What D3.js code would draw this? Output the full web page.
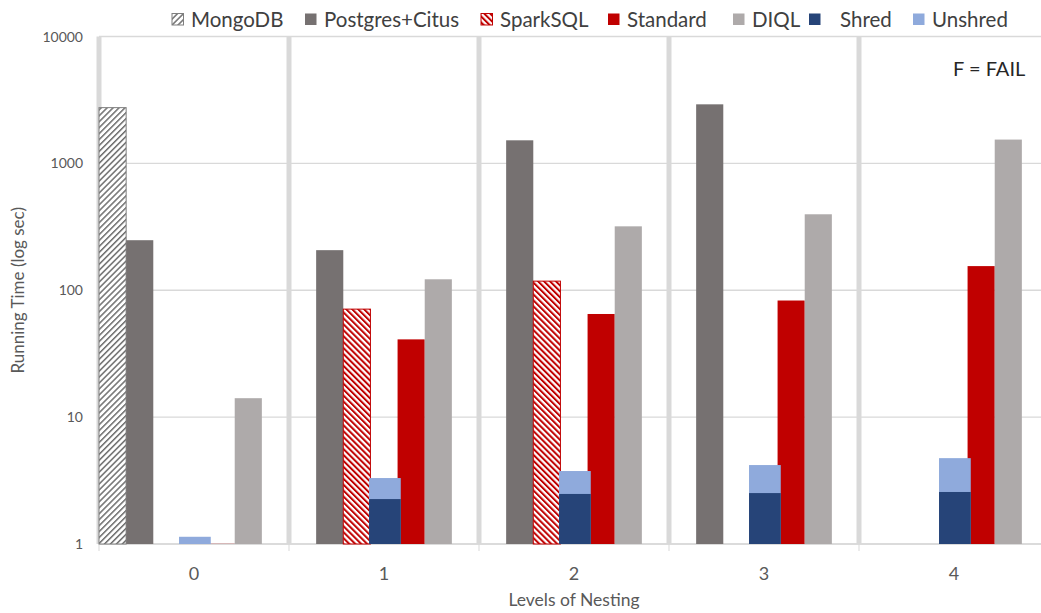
<!DOCTYPE html>
<html><head><meta charset="utf-8">
<script src="https://cdn.jsdelivr.net/npm/d3@7"></script>
<style>
  body { margin: 0; background: #fff; }
  svg { display: block; font-family: Lato, "Open Sans", sans-serif; }
</style>
</head><body>
<svg id="chart" width="1041" height="613"></svg>
<script>
// Running time (seconds) per level of nesting; null = no bar (failed run)
const levels        = ["0", "1", "2", "3", "4"];
const mongodb       = [2750, null, null, null, null];
const postgresCitus = [248, 207, 1520, 2920, null];
const sparkSQL      = [null, 71, 118, null, null];
const standard      = [1.003, 41, 65, 83, 155];
const diql          = [14.1, 122, 319, 397, 1540];
const shred         = [null, 2.26, 2.48, 2.52, 2.57];
const unshred       = [1.14, 3.31, 3.76, 4.19, 4.75];
const yTicks        = [1, 10, 100, 1000, 10000];
const legendNames   = ["MongoDB", "Postgres+Citus", "SparkSQL", "Standard", "DIQL", "Shred", "Unshred"];

const svg = d3.select("#chart");
const plot = { left: 99, right: 1049, top: 36.5, bottom: 544 };

const x = d3.scaleBand().domain(levels).range([plot.left, plot.right]).padding(0);
// seven slots per group: six series positions plus an empty trailing slot
const slot = d3.scaleBand().domain(d3.range(7)).range([0, x.bandwidth()]).padding(0);
const y = d3.scaleLog().domain([1, 10000]).range([plot.bottom, plot.top]);

const gridColor = "#d9d9d9";
const colors = {
  postgres: "#767171",
  standard: "#c00000",
  diql: "#aeaaaa",
  shred: "#264478",
  unshred: "#8faadc"
};

// hatch patterns
const defs = svg.append("defs");
function hatch(id, angle, color, bg, size, lineW) {
  const p = defs.append("pattern")
    .attr("id", id)
    .attr("patternUnits", "userSpaceOnUse")
    .attr("width", size).attr("height", size)
    .attr("patternTransform", `rotate(${angle})`);
  p.append("rect").attr("width", size).attr("height", size).attr("fill", bg);
  p.append("rect").attr("x", 0).attr("y", 0).attr("width", lineW).attr("height", size).attr("fill", color);
}
hatch("hatchMongo", 45, "#6f6f6f", "#ffffff", 4.2, 1.5);
hatch("hatchSpark", -45, "#c00000", "#ffffff", 4.2, 2.0);

// horizontal gridlines
svg.append("g").selectAll("line").data(yTicks).join("line")
  .attr("x1", plot.left).attr("x2", plot.right)
  .attr("y1", d => y(d)).attr("y2", d => y(d))
  .attr("stroke", gridColor).attr("stroke-width", 1.3);

// thick group separators
const bounds = levels.map(l => x(l)).concat([plot.right]);
svg.append("g").selectAll("rect").data(bounds).join("rect")
  .attr("x", d => d - 2.5).attr("width", 5)
  .attr("y", plot.top).attr("height", plot.bottom - plot.top)
  .attr("fill", gridColor);

// x axis line and ticks
svg.append("line")
  .attr("x1", plot.left).attr("x2", plot.right)
  .attr("y1", plot.bottom).attr("y2", plot.bottom)
  .attr("stroke", gridColor).attr("stroke-width", 1.3);
svg.append("g").selectAll("line").data(bounds).join("line")
  .attr("x1", d => d).attr("x2", d => d)
  .attr("y1", plot.bottom).attr("y2", plot.bottom + 7)
  .attr("stroke", gridColor).attr("stroke-width", 1);

// bars
const barsG = svg.append("g");
function drawSeries(values, slotIdx, fill, stroke, extraLeft = 0, extraRight = 0) {
  const rows = levels.map((l, i) => ({ l, v: values[i] })).filter(d => d.v != null);
  barsG.append("g").selectAll("rect").data(rows).join("rect")
    .attr("x", d => x(d.l) + slot(slotIdx) - extraLeft)
    .attr("width", slot.bandwidth() + extraLeft + extraRight)
    .attr("y", d => y(d.v))
    .attr("height", d => y(1) - y(d.v))
    .attr("fill", fill)
    .attr("stroke", stroke || "none")
    .attr("stroke-width", stroke ? 1 : 0);
}
drawSeries(mongodb, 0, "url(#hatchMongo)", "#7f7f7f");
drawSeries(postgresCitus, 1, colors.postgres);
drawSeries(sparkSQL, 2, "url(#hatchSpark)", "#c00000");
drawSeries(standard, 4, colors.standard);
drawSeries(diql, 5, colors.diql);
drawSeries(unshred, 3, colors.unshred, null, 1.4, 3.2);
drawSeries(shred, 3, colors.shred, null, 1.4, 3.2);

// y tick labels
svg.append("g").selectAll("text").data(yTicks).join("text")
  .attr("x", 83).attr("y", d => y(d) + 5)
  .attr("text-anchor", "end")
  .attr("font-size", 14).attr("fill", "#595959")
  .text(d => d3.format("d")(d));

// x tick labels
svg.append("g").selectAll("text").data(levels).join("text")
  .attr("x", d => x(d) + x.bandwidth() / 2).attr("y", 580)
  .attr("text-anchor", "middle")
  .attr("font-size", 18).attr("fill", "#595959")
  .text(d => d);

// axis titles
svg.append("text")
  .attr("x", (plot.left + plot.right) / 2).attr("y", 606)
  .attr("text-anchor", "middle").attr("font-size", 17.5).attr("fill", "#595959")
  .text("Levels of Nesting");
svg.append("text")
  .attr("transform", `translate(24,${(plot.top + plot.bottom) / 2}) rotate(-90)`)
  .attr("text-anchor", "middle").attr("font-size", 17).attr("fill", "#595959")
  .text("Running Time (log sec)");

// annotation
svg.append("text")
  .attr("x", 953).attr("y", 76)
  .attr("font-size", 20).attr("fill", "#262626")
  .text("F = FAIL");

// legend, items placed left to right along the top edge
const legendFills = ["url(#hatchMongo)", colors.postgres, "url(#hatchSpark)", colors.standard, colors.diql, colors.shred, colors.unshred];
const legendStrokes = ["#7f7f7f", null, "#c00000", null, null, null, null];
const legendX = [172, 305, 481, 608, 733, 809, 913];
const legend = svg.append("g");
legendNames.forEach((name, i) => {
  const lx = legendX[i];
  legend.append("rect")
    .attr("x", lx).attr("y", 13.5).attr("width", 11.5).attr("height", 11.5)
    .attr("fill", legendFills[i])
    .attr("stroke", legendStrokes[i] || "none");
  const gap = name === "Shred" ? 31 : 19;
  legend.append("text")
    .attr("x", lx + gap).attr("y", 27)
    .attr("font-size", 20.5).attr("fill", "#404040")
    .text(name);
});
</script>
</body></html>
